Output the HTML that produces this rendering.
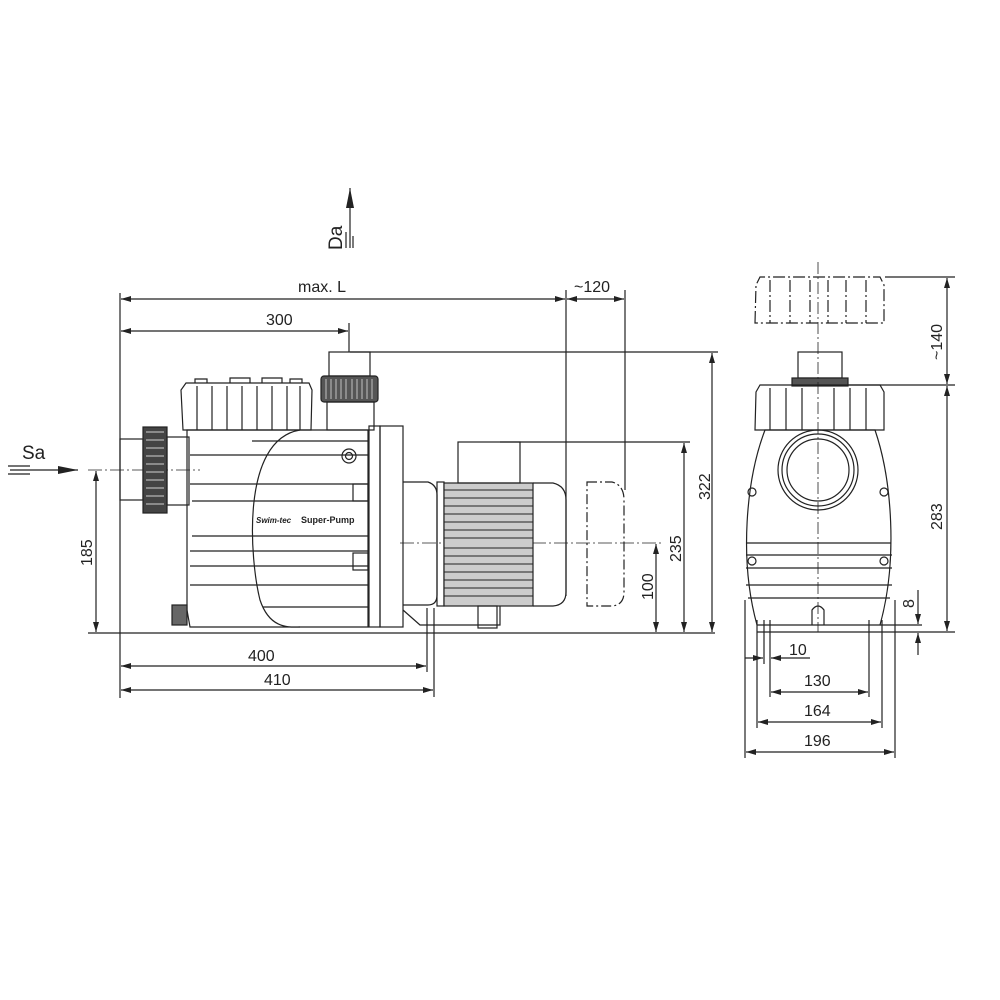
<!DOCTYPE html>
<html><head><style>body{margin:0;background:#fff}svg{display:block}text{font-family:"Liberation Sans",Arial,sans-serif;fill:#222}</style></head><body>
<svg width="1000" height="1000" viewBox="0 0 1000 1000" xmlns="http://www.w3.org/2000/svg" style="font-size:16px">
<defs>
<marker id="a" viewBox="0 0 10 6" refX="10" refY="3" markerWidth="10" markerHeight="6" orient="auto-start-reverse" markerUnits="userSpaceOnUse"><path d="M0,0L10,3L0,6z" fill="#222"/></marker>
<marker id="b" viewBox="0 0 20 8" refX="20" refY="4" markerWidth="20" markerHeight="8" orient="auto" markerUnits="userSpaceOnUse"><path d="M0,0L20,4L0,8z" fill="#222"/></marker>
</defs>
<g stroke="#222" stroke-width="1.2" fill="none">
<line x1="88" y1="633" x2="715" y2="633"/>
<line x1="120" y1="293" x2="120" y2="698"/>
<line x1="566" y1="290" x2="566" y2="596"/>
<line x1="625" y1="290" x2="625" y2="490"/>
<line x1="349" y1="323" x2="349" y2="352"/>
<line x1="350" y1="352" x2="718" y2="352"/>
<line x1="500" y1="442" x2="690" y2="442"/>
<line x1="427" y1="608" x2="427" y2="672"/>
<line x1="434" y1="608" x2="434" y2="697"/>
<line x1="88" y1="470" x2="200" y2="470" stroke-dasharray="14,3,2,3" stroke-width="0.8"/>
<line x1="400" y1="543" x2="662" y2="543" stroke-dasharray="14,3,2,3" stroke-width="0.8"/>
<line x1="121" y1="299" x2="565" y2="299" marker-start="url(#a)" marker-end="url(#a)"/>
<line x1="567" y1="299" x2="624" y2="299" marker-start="url(#a)" marker-end="url(#a)"/>
<line x1="121" y1="331" x2="348" y2="331" marker-start="url(#a)" marker-end="url(#a)"/>
<line x1="96" y1="471" x2="96" y2="632" marker-start="url(#a)" marker-end="url(#a)"/>
<line x1="712" y1="353" x2="712" y2="632" marker-start="url(#a)" marker-end="url(#a)"/>
<line x1="684" y1="443" x2="684" y2="632" marker-start="url(#a)" marker-end="url(#a)"/>
<line x1="656" y1="544" x2="656" y2="632" marker-start="url(#a)" marker-end="url(#a)"/>
<line x1="121" y1="666" x2="426" y2="666" marker-start="url(#a)" marker-end="url(#a)"/>
<line x1="121" y1="690" x2="433" y2="690" marker-start="url(#a)" marker-end="url(#a)"/>
<line x1="350" y1="248" x2="350" y2="188" marker-end="url(#b)"/>
<line x1="346" y1="232" x2="346" y2="248"/><line x1="353" y1="236" x2="353" y2="248"/>
<line x1="10" y1="470" x2="78" y2="470" marker-end="url(#b)"/>
<line x1="8" y1="466" x2="30" y2="466"/><line x1="8" y1="474" x2="30" y2="474"/>

<rect x="120" y="439" width="23" height="61"/>
<rect x="143" y="427" width="24" height="86" fill="#444"/>
<g stroke="#fff" stroke-width="0.8"><line x1="146" y1="432" x2="164" y2="432"/><line x1="146" y1="440" x2="164" y2="440"/><line x1="146" y1="448" x2="164" y2="448"/><line x1="146" y1="456" x2="164" y2="456"/><line x1="146" y1="464" x2="164" y2="464"/><line x1="146" y1="472" x2="164" y2="472"/><line x1="146" y1="480" x2="164" y2="480"/><line x1="146" y1="488" x2="164" y2="488"/><line x1="146" y1="496" x2="164" y2="496"/><line x1="146" y1="504" x2="164" y2="504"/></g>
<rect x="167" y="437" width="22" height="68"/>
<path d="M183,430 L181,390 L186,383 L309,383 L312,390 L311,430 Z"/>
<path d="M195,383v-4h12v4M230,383v-5h20v5M262,383v-5h20v5M290,383v-4h12v4"/>
<path d="M197,386V430M212,386V430M227,386V430M242,386V430M257,386V430M272,386V430M287,386V430M300,386V430"/>
<path d="M187,430 H368 V627 H190 L187,610 Z"/>
<path d="M300,430 C240,440 250,560 260,600 C270,630 290,627 300,627"/>
<path d="M252,441H369M190,455H369M190,484H369M192,501H369M192,536H369M190,551H369M190,566H369M190,585H369M263,607H369"/>
<circle cx="349" cy="456" r="7"/><circle cx="349" cy="456" r="3.5"/>
<rect x="353" y="484" width="15" height="17"/><rect x="353" y="553" width="15" height="17"/>
<rect x="172" y="605" width="15" height="20" fill="#666"/>
<rect x="369" y="426" width="11" height="201"/>
<rect x="380" y="426" width="23" height="201"/>
<rect x="329" y="352" width="41" height="24"/>
<rect x="321" y="376" width="57" height="26" rx="3" fill="#555"/>
<g stroke="#ddd" stroke-width="0.8"><path d="M326,379V399M331,379V399M336,379V399M341,379V399M346,379V399M352,379V399M357,379V399M362,379V399M367,379V399M372,379V399"/></g>
<rect x="327" y="402" width="47" height="28"/>
<path d="M403,482 L428,482 Q437,485 437,495 L437,595 Q437,605 428,605 L403,605"/>
<path d="M403,610 L420,625 L500,625 L500,606"/>
<rect x="437" y="482" width="7" height="124"/>
<rect x="444" y="483" width="89" height="123" fill="#ccc"/>
<g stroke="#222" stroke-width="1"><path d="M444,490H533M444,498H533M444,506H533M444,514H533M444,522H533M444,530H533M444,538H533M444,548H533M444,556H533M444,564H533M444,572H533M444,580H533M444,588H533M444,596H533"/></g>
<path d="M533,483 H553 Q566,486 566,500 V592 Q566,605 553,606 H533"/>
<rect x="458" y="442" width="62" height="41"/>
<rect x="478" y="606" width="19" height="22"/>
<path d="M587,482 H612 Q624,485 624,500 V592 Q624,605 612,606 H587 Z" stroke-dasharray="10,3,2,3"/>

<line x1="757" y1="632" x2="955" y2="632"/>
<line x1="885" y1="277" x2="955" y2="277"/>
<line x1="848" y1="385" x2="955" y2="385"/>
<line x1="947" y1="278" x2="947" y2="384" marker-start="url(#a)" marker-end="url(#a)"/>
<line x1="947" y1="386" x2="947" y2="631" marker-start="url(#a)" marker-end="url(#a)"/>
<line x1="880" y1="625" x2="922" y2="625"/>
<line x1="918" y1="590" x2="918" y2="624" marker-end="url(#a)"/>
<line x1="918" y1="655" x2="918" y2="633" marker-end="url(#a)"/>
<line x1="745" y1="600" x2="745" y2="758"/><line x1="895" y1="600" x2="895" y2="758"/>
<line x1="757" y1="620" x2="757" y2="728"/><line x1="882" y1="620" x2="882" y2="728"/>
<line x1="764" y1="620" x2="764" y2="664"/><line x1="770" y1="620" x2="770" y2="697"/><line x1="869" y1="620" x2="869" y2="697"/>
<line x1="745" y1="658" x2="763" y2="658" marker-end="url(#a)"/>
<line x1="810" y1="658" x2="771" y2="658" marker-end="url(#a)"/>
<line x1="771" y1="692" x2="868" y2="692" marker-start="url(#a)" marker-end="url(#a)"/>
<line x1="758" y1="722" x2="881" y2="722" marker-start="url(#a)" marker-end="url(#a)"/>
<line x1="746" y1="752" x2="894" y2="752" marker-start="url(#a)" marker-end="url(#a)"/>
<path d="M755,323 L756,285 L760,277 L880,277 L884,285 L884,323 Z" stroke-dasharray="12,3,2,3"/>
<path d="M770,280V323M790,280V323M810,280V323M828,280V323M846,280V323M866,280V323" stroke-dasharray="12,3,2,3"/>
<rect x="798" y="352" width="44" height="26"/>
<rect x="792" y="378" width="56" height="8" fill="#555"/>
<path d="M755,430 L756,392 L760,385 L880,385 L884,392 L884,430 Z"/>
<path d="M770,388V430M786,388V430M802,388V430M834,388V430M850,388V430M866,388V430"/>
<path d="M765,430 L875,430 C892,480 898,560 880,625 L757,625 C739,560 746,480 765,430 Z"/>
<circle cx="818" cy="470" r="40"/><circle cx="818" cy="470" r="36"/><circle cx="818" cy="470" r="31"/>
<path d="M747,543H891M746,555H892M746,568H892M746,585H892M748,598H890"/>
<line x1="818" y1="262" x2="818" y2="632" stroke-dasharray="12,3,2,3" stroke-width="0.8"/>
<circle cx="752" cy="492" r="4"/><circle cx="884" cy="492" r="4"/><circle cx="752" cy="561" r="4"/><circle cx="884" cy="561" r="4"/>
<path d="M812,625 L812,610 Q818,602 824,610 L824,625"/>
</g>
<text x="266" y="325">300</text>
<text x="298" y="292">max. L</text>
<text x="574" y="292">~120</text>
<text x="248" y="661">400</text>
<text x="264" y="685">410</text>
<text x="22" y="459" style="font-size:19px">Sa</text>
<text transform="translate(342,250) rotate(-90)" style="font-size:19px">Da</text>
<text transform="translate(92,566) rotate(-90)">185</text>
<text transform="translate(710,500) rotate(-90)">322</text>
<text transform="translate(681,562) rotate(-90)">235</text>
<text transform="translate(653,600) rotate(-90)">100</text>
<text transform="translate(942,360) rotate(-90)">~140</text>
<text transform="translate(942,530) rotate(-90)">283</text>
<text transform="translate(914,608) rotate(-90)">8</text>
<text x="789" y="655">10</text>
<text x="804" y="686">130</text>
<text x="804" y="716">164</text>
<text x="804" y="746">196</text>
<text x="256" y="523" style="font-size:8px;font-style:italic;font-weight:bold">Swim-tec</text>
<text x="301" y="523" style="font-size:9px;font-weight:bold">Super-Pump</text>
</svg>
</body></html>
